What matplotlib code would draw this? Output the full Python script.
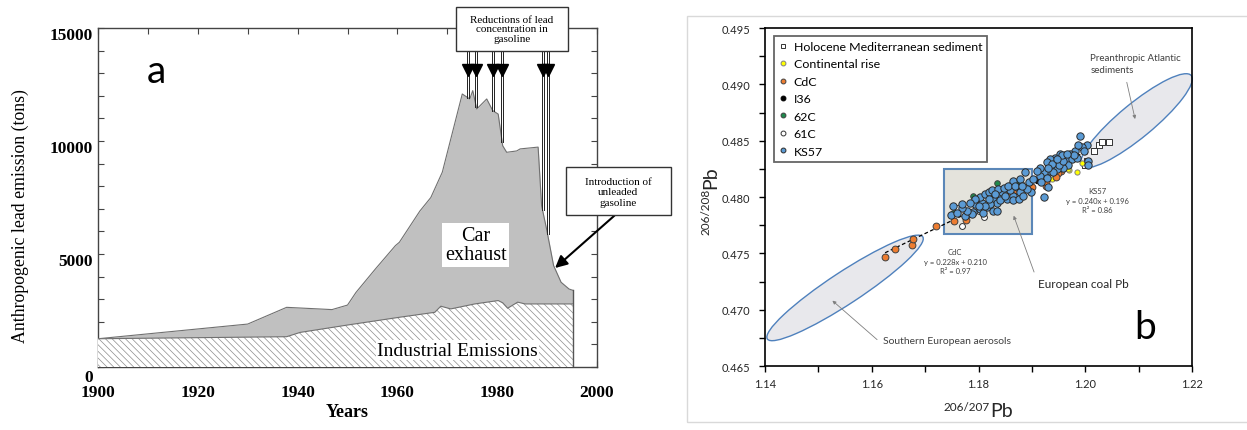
import numpy as np
import matplotlib.pyplot as plt
from matplotlib.patches import Ellipse, Rectangle
from matplotlib.lines import Line2D
from matplotlib.transforms import IdentityTransform, ScaledTranslation

# ---- panel a: anthropogenic lead emission (tons) ----
years_total = [1900, 1930, 1937.8, 1946.9, 1950, 1951.7, 1955.6, 1959.6, 1960.4, 1964.5,
               1966.7, 1969, 1970.7, 1973, 1974.5, 1975.1, 1975.9, 1977.9, 1979.1, 1980.2,
               1981.1, 1981.9, 1983.9, 1984.6, 1988.2, 1988.9, 1989.9, 1991.3, 1992.8,
               1994.4, 1995.2]
total = [1250, 1900, 2640, 2540, 2740, 3300, 4340, 5370, 5520, 6900,
         7500, 8620, 10090, 12080, 11860, 12230, 11415, 11860, 11345, 11190,
         9790, 9500, 9560, 9650, 9730, 7140, 6100, 4490, 3750,
         3450, 3390]

years_ind = [1900, 1937.8, 1940.5, 1950.1, 1960.4, 1967.5, 1968.7, 1970.7, 1975.5,
             1980.2, 1981.1, 1982.1, 1984.1, 1985.6, 1995.2]
industrial = [1250, 1340, 1530, 1860, 2200, 2420, 2690, 2570, 2790,
              2940, 2840, 2600, 2870, 2790, 2790]

# years of the lead reductions in gasoline
reduction_years = [1974.2, 1975.8, 1979.1, 1981.0, 1989.1, 1990.1]

# ---- panel b: lead isotopes ----
ks57 = [(1.1748, 0.4784), (1.1775, 0.4783), (1.1789, 0.4787), (1.1803, 0.4789), (1.1816, 0.4791),
        (1.1794, 0.4794), (1.1806, 0.4795), (1.1828, 0.4798), (1.1834, 0.4795), (1.1840, 0.4801),
        (1.1859, 0.4810), (1.1865, 0.4814), (1.1878, 0.4816), (1.1887, 0.4822), (1.1894, 0.4813),
        (1.1898, 0.4804), (1.1890, 0.4807), (1.1873, 0.4809), (1.1853, 0.4798), (1.1865, 0.4801),
        (1.1859, 0.4806), (1.1844, 0.4804), (1.1822, 0.4794), (1.1828, 0.4788), (1.1834, 0.4788),
        (1.1809, 0.4786), (1.1787, 0.4785), (1.1779, 0.4788), (1.1770, 0.4790), (1.1759, 0.4786),
        (1.1753, 0.4792), (1.1803, 0.4800), (1.1812, 0.4803), (1.1819, 0.4804), (1.1825, 0.4806),
        (1.1837, 0.4807), (1.1847, 0.4808), (1.1856, 0.4810), (1.1869, 0.4810), (1.1878, 0.4804),
        (1.1881, 0.4810), (1.1812, 0.4792), (1.1800, 0.4792), (1.1794, 0.4798), (1.1784, 0.4795),
        (1.1769, 0.4794), (1.1819, 0.4798), (1.1841, 0.4797), (1.1850, 0.4801), (1.1831, 0.4803),
        (1.1865, 0.4797), (1.1875, 0.4798), (1.1884, 0.4801),
        (1.1990, 0.4854), (1.2004, 0.4846), (1.1993, 0.4844), (1.1981, 0.4841), (1.1972, 0.4838),
        (1.1962, 0.4837), (1.1953, 0.4838), (1.1943, 0.4835), (1.1934, 0.4834), (1.1928, 0.4831),
        (1.1940, 0.4828), (1.1953, 0.4831), (1.1965, 0.4834), (1.1975, 0.4834), (1.1984, 0.4835),
        (1.1968, 0.4828), (1.1959, 0.4826), (1.1947, 0.4825), (1.1934, 0.4823), (1.1922, 0.4822),
        (1.1915, 0.4819), (1.1928, 0.4817), (1.1940, 0.4822), (1.1950, 0.4828), (1.1903, 0.4816),
        (1.1918, 0.4813), (1.1930, 0.4809), (1.1923, 0.4800), (1.2006, 0.4832), (1.2006, 0.4828),
        (1.1997, 0.4841), (1.1987, 0.4846), (1.1978, 0.4837), (1.1959, 0.4832), (1.1937, 0.4829),
        (1.1931, 0.4826), (1.1915, 0.4826), (1.1909, 0.4823), (1.1956, 0.4837), (1.1947, 0.4834),
        (1.1965, 0.4838)]
holocene = [(1.2016, 0.4841), (1.2026, 0.4846), (1.2031, 0.4849), (1.2044, 0.4849),
            (1.2000, 0.4828), (1.2006, 0.4830), (1.2004, 0.4832)]
continental = [(1.1970, 0.4824), (1.1993, 0.4830), (1.1938, 0.4816), (1.1947, 0.4823),
               (1.1968, 0.4825), (1.1820, 0.4803), (1.1985, 0.4822)]
cdc = [(1.1625, 0.4747), (1.1644, 0.4754), (1.1675, 0.4757), (1.1678, 0.4763), (1.1720, 0.4774),
       (1.1754, 0.4779), (1.1776, 0.4780), (1.1860, 0.4802), (1.1870, 0.4806), (1.1901, 0.4809),
       (1.1927, 0.4810), (1.1927, 0.4813), (1.1954, 0.4823), (1.1949, 0.4821), (1.1945, 0.4818)]
i36 = [(1.1905, 0.4816), (1.1910, 0.4814), (1.1916, 0.4813), (1.1922, 0.4818), (1.1950, 0.4826),
       (1.1963, 0.4830), (1.1983, 0.4838), (1.2000, 0.4840), (1.1940, 0.4821), (1.1975, 0.4833),
       (1.1958, 0.4829)]
c62 = [(1.1767, 0.4791), (1.1753, 0.4786), (1.1802, 0.4798), (1.1834, 0.4812), (1.1874, 0.4814),
       (1.1790, 0.4801)]
c61 = [(1.1770, 0.4774), (1.1785, 0.4785), (1.1800, 0.4788), (1.1810, 0.4782), (1.1795, 0.4791),
       (1.1760, 0.4790), (1.1830, 0.4790)]

# linear fits y = a*x + b
fit_cdc = (0.228, 0.210, 0.97)
fit_ks57 = (0.240, 0.196, 0.86)

W, H = 1247, 431


def fx(x):
    return x / W


def fy(y):
    return 1 - y / H


plt.rcParams['hatch.linewidth'] = 0.5
serif = 'Liberation Serif'
sans = 'Lato'

fig = plt.figure(figsize=(W / 100, H / 100), dpi=100)

# ================= panel a =================
ax = fig.add_axes([fx(98), fy(368), (597 - 98) / W, (368 - 29) / H])
ax.fill_between(years_total, total, color='#c0c0c0', lw=0, zorder=1)
ax.plot(years_total, total, color='#707070', lw=0.8, zorder=2)
ax.fill_between(years_ind, industrial, facecolor='white', edgecolor='#8c8c8c',
                hatch='\\\\\\\\\\', lw=0, zorder=3)
ax.plot(years_ind, industrial, color='#707070', lw=0.8, zorder=4)
ax.plot([years_total[-1]] * 2, [0, total[-1]], color='#555555', lw=1, zorder=4)

ax.set_xlim(1900, 2000)
ax.set_ylim(0, 15000)
ax.set_xticks(range(1900, 2001, 20))
ax.set_xticks(range(1900, 2001, 10), minor=True)
ax.set_yticks([0, 5000, 10000, 15000])
ax.set_yticks(range(0, 15001, 1000), minor=True)
ax.tick_params(which='both', direction='in', top=True, right=True, length=4,
               width=0.8, color='#444444')
ax.tick_params(axis='x', pad=12.5)
ax.tick_params(axis='y', pad=3.5)
for lab in ax.get_xticklabels() + ax.get_yticklabels():
    lab.set_fontfamily(serif)
    lab.set_fontweight('bold')
    lab.set_fontsize(12.5)
for i, lab in enumerate(ax.get_yticklabels()):
    dy = -8 if i == 0 else -5
    lab.set_transform(lab.get_transform() + ScaledTranslation(0, dy / 100, fig.dpi_scale_trans))
for s in ax.spines.values():
    s.set_color('#444444')
    s.set_linewidth(1)

fig.text(fx(347), fy(413), 'Years', ha='center', va='center', family=serif,
         fontweight='bold', fontsize=13)
fig.text(fx(20), fy(216), 'Anthropogenic lead emission (tons)', rotation=90,
         ha='center', va='center', family=serif, fontsize=12.8)
fig.text(fx(156), fy(83), 'a', ha='center', va='baseline', family=sans, fontsize=28)

ax.text(1975.7, 5400, 'Car\nexhaust', ha='center', va='center', family=serif,
        fontsize=14.5, linespacing=1.05, zorder=6,
        bbox=dict(facecolor='white', edgecolor='none', pad=2))
ax.text(1972, 750, 'Industrial Emissions', ha='center', va='center', family=serif,
        fontsize=14, zorder=6, bbox=dict(facecolor='white', edgecolor='none', pad=1))

# reductions of lead concentration box and arrows
fig.add_artist(Rectangle((fx(456), fy(52)), (568 - 456) / W, (52 - 8) / H,
                         transform=fig.transFigure, facecolor='white',
                         edgecolor='#333333', lw=1, zorder=10))
fig.text(fx(512), fy(30), 'Reductions of lead\nconcentration in\ngasoline', ha='center',
         va='center', family=serif, fontsize=8, linespacing=1.1, zorder=11)
for yr in reduction_years:
    top_val = np.interp(yr, years_total, total)
    for off in (-0.2, 0.2):
        ax.plot([yr + off] * 2, [13980, top_val], color='#222222', lw=0.7,
                clip_on=False, zorder=7)
    ax.plot(yr, 13150, marker='v', markersize=9, color='black', clip_on=False, zorder=8)

# introduction of unleaded gasoline
fig.add_artist(Rectangle((fx(566), fy(216)), (671 - 566) / W, (216 - 168) / H,
                         transform=fig.transFigure, facecolor='white',
                         edgecolor='#333333', lw=1, zorder=10))
fig.text(fx(618), fy(193), 'Introduction of\nunleaded\ngasoline', ha='center',
         va='center', family=serif, fontsize=8, linespacing=1.15, zorder=11)
ax.annotate('', xy=(1991.6, 4380), xytext=(2003.5, 6700), annotation_clip=False,
            arrowprops=dict(arrowstyle='-|>', color='black', lw=1.5,
                            mutation_scale=18, shrinkA=0, shrinkB=0), zorder=9)

# ================= panel b =================
fig.add_artist(Rectangle((fx(687), fy(423)), (1300 - 687) / W, (423 - 17) / H,
                         transform=fig.transFigure, fill=False,
                         edgecolor='#d9d9d9', lw=1))

bx = fig.add_axes([fx(765), fy(367), 427 / W, 338 / H])
bx.set_xlim(1.14, 1.22)
bx.set_ylim(0.465, 0.495)
bx.set_autoscale_on(False)


def pixel_ellipse(center, length, width, angle):
    cpx = bx.transData.transform(center)
    return Ellipse(cpx, length, width, angle=angle, transform=IdentityTransform(),
                   facecolor='#e8e8ec', edgecolor='#4f81bd', lw=1, zorder=1,
                   clip_on=False)


bx.add_patch(pixel_ellipse((1.1550, 0.47193), 186, 32, 33.3))
bx.add_patch(pixel_ellipse((1.2096, 0.48677), 142, 34, 39.5))
bx.add_patch(Rectangle((1.1736, 0.4767), 1.1900 - 1.1736, 0.4825 - 0.4767,
                       facecolor='#e4e3dc', edgecolor='#5b87b8', lw=1.5, zorder=1))

xs = np.array([1.1625, 1.1900])
bx.plot(xs, fit_cdc[0] * xs + fit_cdc[1], color='black', lw=0.9, ls=(0, (3, 2)), zorder=2)
xs = np.array([1.1880, 1.2005])
bx.plot(xs, fit_ks57[0] * xs + fit_ks57[1], color='black', lw=0.9, ls=(0, (3, 2)), zorder=2)

series = [
    ('Holocene Mediterranean sediment', holocene, 's', 'white', '#333333', 22),
    ('Continental rise', continental, 'o', '#ffff00', '#808080', 14),
    ('CdC', cdc, 'o', '#ed7d31', '#404040', 24),
    ('I36', i36, 'o', 'black', 'black', 10),
    ('62C', c62, 'o', '#1e8a4c', '#404040', 16),
    ('61C', c61, 'o', 'white', '#333333', 18),
    ('KS57', ks57, 'o', '#5b9bd5', '#2b2b2b', 28),
]
handles = []
for name, pts, mk, fc, ec, size in series:
    px, py = zip(*pts)
    bx.scatter(px, py, s=size, marker=mk, facecolor=fc, edgecolor=ec, lw=0.7, zorder=3)
    handles.append(Line2D([], [], ls='none', marker=mk, markersize=3.5, mfc=fc, mec=ec,
                          mew=0.7, label=name))

leg = bx.legend(handles=handles, loc='upper left', bbox_to_anchor=(0.021, 0.976),
                borderaxespad=0, frameon=True, fancybox=False, edgecolor='#404040',
                prop={'family': sans, 'size': 8.9}, handlelength=0.7,
                handletextpad=0.5, labelspacing=0.52, borderpad=0.4)
leg.get_frame().set_linewidth(1.3)

bx.set_xticks(np.arange(1.14, 1.2201, 0.02))
bx.set_xticks(np.arange(1.14, 1.2201, 0.01), minor=True)
bx.set_yticks(np.arange(0.465, 0.49501, 0.005))
bx.set_yticks(np.arange(0.465, 0.49501, 0.0025), minor=True)
bx.set_xticklabels(['%.2f' % v for v in np.arange(1.14, 1.2201, 0.02)])
bx.set_yticklabels(['%.3f' % v for v in np.arange(0.465, 0.49501, 0.005)])
bx.tick_params(which='both', direction='out', length=4.5, width=1, colors='black')
bx.tick_params(axis='y', pad=6)
bx.tick_params(axis='x', pad=4.5)
for lab in bx.get_xticklabels() + bx.get_yticklabels():
    lab.set_fontfamily(sans)
    lab.set_fontsize(8)
    lab.set_color('#262626')
for s in bx.spines.values():
    s.set_linewidth(1.2)

gray_txt = '#404040'
arrow_kw = dict(arrowstyle='-|>', color='#7f7f7f', lw=0.6, mutation_scale=5,
                shrinkA=0, shrinkB=0)
bx.annotate('', xy=(1.15263, 0.47080), xytext=(1.1610, 0.46734), arrowprops=arrow_kw)
bx.annotate('', xy=(1.18659, 0.47834), xytext=(1.19041, 0.47334), arrowprops=arrow_kw)
bx.annotate('', xy=(1.20934, 0.48692), xytext=(1.20778, 0.49018), arrowprops=arrow_kw)

bx.text(1.16211, 0.46725, 'Southern European aerosols', ha='left', va='center',
        family=sans, fontsize=7.5, color=gray_txt)
bx.text(1.19108, 0.47228, 'European coal Pb', ha='left', va='center',
        family=sans, fontsize=8.5, color='#262626')
bx.text(1.20096, 0.49185, 'Preanthropic Atlantic\nsediments', ha='left', va='center',
        family=sans, fontsize=7, color=gray_txt, linespacing=1.45)
bx.text(1.20222, 0.47971, 'KS57\ny = %.3fx + %.3f\nR\u00b2 = %.2f' % fit_ks57,
        ha='center', va='center', family=sans, fontsize=5.5, color=gray_txt,
        linespacing=1.45)
bx.text(1.17561, 0.47430, 'CdC\ny = %.3fx + %.3f\nR\u00b2 = %.2f' % fit_cdc,
        ha='center', va='center', family=sans, fontsize=5.5, color=gray_txt,
        linespacing=1.45)

# axis titles with leading isotope masses
fig.text(fx(990), fy(411), '206/207', ha='right', va='baseline', family=sans,
         fontsize=8.5, color='#262626')
fig.text(fx(990), fy(417), 'Pb', ha='left', va='baseline', family=sans,
         fontsize=14, color='#262626')
fig.text(fx(710), fy(235), '206/208', ha='left', va='baseline', family=sans,
         fontsize=8.5, color='#262626', rotation=90, rotation_mode='anchor')
fig.text(fx(716), fy(189), 'Pb', ha='left', va='baseline', family=sans,
         fontsize=14, color='#262626', rotation=90, rotation_mode='anchor')

fig.text(fx(1145), fy(339), 'b', ha='center', va='baseline', family=sans, fontsize=28)

fig.savefig('out.png', dpi=100, facecolor='white')
